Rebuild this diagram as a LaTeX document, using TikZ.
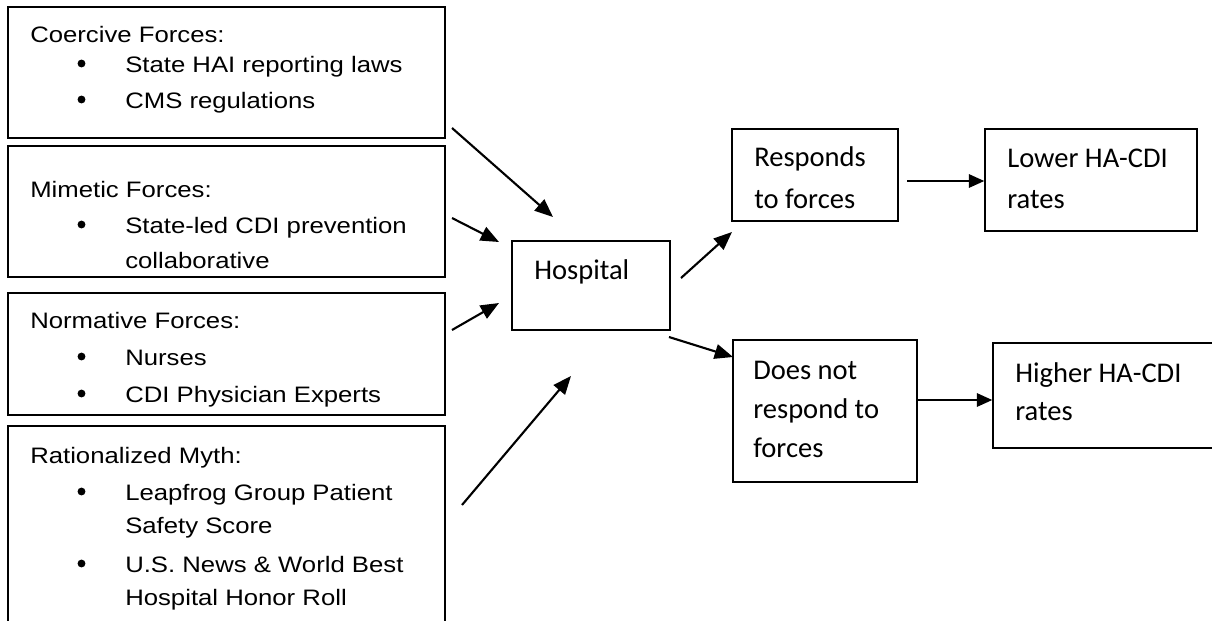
\documentclass[tikz,border=0pt]{standalone}
\usepackage{fontspec}
\setmainfont{Liberation Sans}[FakeStretch=1.15]
\newfontfamily\calib{Carlito}
\usepackage{tikz}
\usetikzlibrary{arrows.meta,positioning,fit}

\begin{document}
\begin{tikzpicture}[x=0.025cm,y=-0.025cm,>={Triangle[length=13pt,width=10.5pt]},
  forcebox/.style={draw,line width=1.3pt,inner sep=0pt},
  outbox/.style={draw,line width=1pt,inner sep=0pt},
  txt/.style={anchor=base west,inner sep=0pt,font=\fontsize{15.9}{18}\selectfont},
  otxt/.style={anchor=base west,inner sep=0pt,font=\calib\fontsize{20.3}{24}\selectfont},
  dot/.style={circle,fill,inner sep=0pt,minimum size=5.6pt},
  arr/.style={->,line width=1.5pt},
  harr/.style={-{Triangle[length=11pt,width=9.5pt]},line width=1.5pt}]
  \useasboundingbox (0,0) rectangle (1212,620);
  \clip (0,0) rectangle (1212,620);
  % the four institutional forces
  \node[forcebox,fit={(8,7) (445,138)}] (coerc) {};
  \node[forcebox,fit={(8,146) (445,277)}] (mimet) {};
  \node[forcebox,fit={(8,293) (445,415)}] (norm) {};
  \node[forcebox,fit={(8,426) (445,650)}] (myth) {};
  \node[txt] (coerct) at (30,42) {Coercive Forces:};
  \node[txt] (coerc1) at (125,72) {State HAI reporting laws};
  \node[txt] (coerc2) at (125,108) {CMS regulations};
  \node[txt] (mimett) at (30,197) {Mimetic Forces:};
  \node[txt] (mimet1) at (125,233) {State-led CDI prevention};
  \node[txt] (mimet2) at (125,268) {collaborative};
  \node[txt] (normt) at (30,328) {Normative Forces:};
  \node[txt] (norm1) at (125,365) {Nurses};
  \node[txt] (norm2) at (125,402) {CDI Physician Experts};
  \node[txt] (mytht) at (30,463) {Rationalized Myth:};
  \node[txt] (myth1) at (125,500) {Leapfrog Group Patient};
  \node[txt] (myth2) at (125,533) {Safety Score};
  \node[txt] (myth3) at (125,572) {U.S. News \& World Best};
  \node[txt] (myth4) at (125,605) {Hospital Honor Roll};
  \foreach \y/\n in {72/1,108/2,233/3,365/4,402/5,500/6,572/7}
    \node[dot] (bul\n) at (81.5,\y-8.5) {};
  % hospital and outcomes
  \node[outbox,fit={(512,241) (670,330)}] (hosp) {};
  \node[otxt] (hospt) at (534,279) {Hospital};
  \node[outbox,fit={(732,129) (898,221)}] (resp) {};
  \node[otxt] (resp1) at (754,166) {Responds};
  \node[otxt] (resp2) at (754,208) {to forces};
  \node[outbox,fit={(985,129) (1197,231)}] (lower) {};
  \node[otxt] (lower1) at (1007,167) {Lower HA-CDI};
  \node[otxt] (lower2) at (1007,208) {rates};
  \node[outbox,fit={(733,340) (917,482)}] (noresp) {};
  \node[otxt] (noresp1) at (753,379) {Does not};
  \node[otxt] (noresp2) at (753,418) {respond to};
  \node[otxt] (noresp3) at (753,457) {forces};
  \node[outbox,fit={(993,343) (1240,448)}] (higher) {};
  \node[otxt] (higher1) at (1015,382) {Higher HA-CDI};
  \node[otxt] (higher2) at (1015,420) {rates};
  % arrow ends
  \coordinate (c1) at (452,128);  \coordinate (h1) at (553,217);
  \coordinate (c2) at (452,218);  \coordinate (h2) at (499,242);
  \coordinate (c3) at (452,330);  \coordinate (h3) at (499,303);
  \coordinate (c4) at (462,505);  \coordinate (h4) at (571,376);
  \coordinate (h5) at (681,278);  \coordinate (r5) at (732,232);
  \coordinate (h6) at (669,337);  \coordinate (r6) at (733,357);
  \coordinate (r7) at (907,181);  \coordinate (r8) at (917,400);
  \draw[arr] (c1) -- (h1);
  \draw[arr] (c2) -- (h2);
  \draw[arr] (c3) -- (h3);
  \draw[arr] (c4) -- (h4);
  \draw[arr] (h5) -- (r5);
  \draw[arr] (h6) -- (r6);
  \draw[harr] (r7) -- (r7 -| lower.west);
  \draw[harr] (r8) -- (r8 -| higher.west);
\end{tikzpicture}
\end{document}
